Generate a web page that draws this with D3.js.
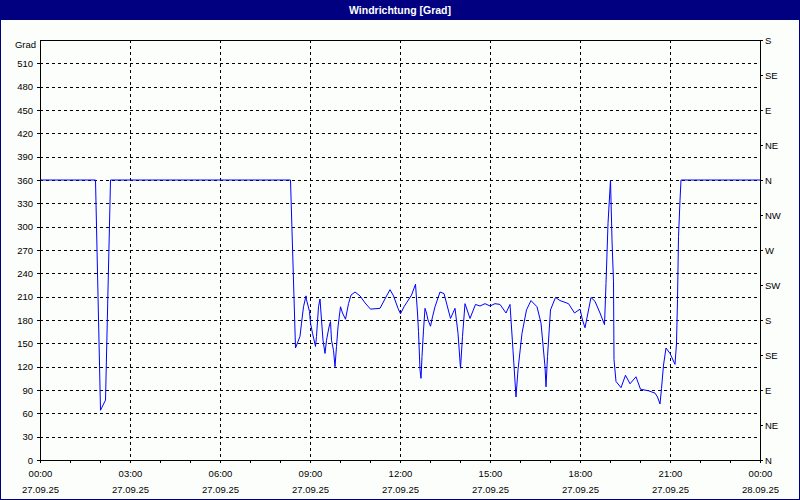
<!DOCTYPE html>
<html>
<head>
<meta charset="utf-8">
<script src="https://cdn.jsdelivr.net/npm/d3@7"></script>
<style>
  body { margin: 0; background: #fff; }
  text { font-family: "Liberation Sans", Arial, sans-serif; font-size: 9.5px; fill: #000; }
  .title { font-weight: bold; font-size: 10.5px; fill: #fff; }
  .grid line { stroke: #000; stroke-dasharray: 3,3; shape-rendering: crispEdges; }
  .axis path, .axis line { stroke: #000; shape-rendering: crispEdges; }
</style>
</head>
<body>
<div id="chart"></div>
<script>
// chart size
var svgWidth = 800;
var svgHeight = 500;
var margin = { top: 40, right: 40, bottom: 40, left: 40 };
var width = svgWidth - margin.left - margin.right;
var height = svgHeight - margin.top - margin.bottom;

var chartTitle = "Windrichtung [Grad]";
var unitLabel = "Grad";
var compassLabels = ["N", "NE", "E", "SE", "S", "SW", "W", "NW", "N", "NE", "E", "SE", "S"];

// readings of 27.09.25, time of day and direction in degrees
var times = ["00:00", "01:51", "02:01", "02:11", "02:21", "08:21", "08:31", "08:40", "08:43", "08:47",
  "08:52", "08:53", "08:59", "09:01", "09:05", "09:11", "09:13", "09:17", "09:20", "09:23",
  "09:26", "09:30", "09:33", "09:38", "09:41", "09:43", "09:47", "09:50", "09:53", "09:56",
  "10:01", "10:05", "10:11", "10:17", "10:22", "10:30", "10:40", "10:50", "11:01", "11:20",
  "11:34", "11:40", "11:47", "11:56", "12:01", "12:08", "12:13", "12:23", "12:31", "12:35",
  "12:37", "12:40", "12:42", "12:44", "12:47", "12:50", "12:53", "12:56", "13:01", "13:05",
  "13:10", "13:20", "13:28", "13:41", "13:50", "13:56", "14:01", "14:05", "14:10", "14:20",
  "14:31", "14:40", "14:50", "15:00", "15:10", "15:20", "15:32", "15:40", "15:46", "15:52",
  "15:56", "16:04", "16:13", "16:22", "16:34", "16:42", "16:50", "16:52", "16:55", "17:01",
  "17:11", "17:20", "17:37", "17:49", "18:00", "18:05", "18:10", "18:22", "18:30", "18:40",
  "18:49", "18:52", "18:56", "19:01", "19:02", "19:04", "19:07", "19:08", "19:12", "19:22",
  "19:31", "19:40", "19:52", "20:01", "20:17", "20:30", "20:35", "20:40", "20:43", "20:47",
  "20:52", "21:00", "21:10", "21:13", "21:15", "21:17", "21:20", "21:22", "24:00"];
var directions = [360, 360, 64, 77, 360, 360, 144, 159, 176, 197,
  211, 206, 191, 176, 163, 146, 159, 197, 207, 180,
  154, 137, 154, 171, 178, 154, 141, 120, 146, 171,
  197, 189, 181, 201, 212, 216, 211, 202, 194, 195,
  212, 219, 211, 195, 188, 197, 202, 212, 226, 189,
  165, 116, 105, 133, 167, 195, 189, 180, 172, 184,
  197, 216, 214, 182, 195, 163, 118, 159, 201, 182,
  200, 198, 201, 198, 201, 200, 189, 200, 141, 81,
  116, 163, 193, 205, 197, 176, 120, 94, 133, 193,
  209, 205, 201, 189, 194, 180, 170, 209, 204, 189,
  174, 227, 304, 360, 334, 283, 229, 129, 101, 93,
  109, 98, 107, 91, 89, 86, 81, 72, 92, 122,
  144, 137, 123, 150, 206, 287, 334, 360, 360];

var dayStart = new Date(2025, 8, 27, 0, 0);
var dayEnd = new Date(2025, 8, 28, 0, 0);

function toDate(t) {
  var p = t.split(":");
  return d3.timeMinute.offset(dayStart, +p[0] * 60 + +p[1]);
}

var data = times.map(function(t, i) { return [toDate(t), directions[i]]; });

var svg = d3.select("#chart")
  .append("svg")
  .attr("width", svgWidth)
  .attr("height", svgHeight);

// frame and title bar
svg.append("rect")
  .attr("x", 0.5).attr("y", 0.5)
  .attr("width", svgWidth - 1).attr("height", svgHeight - 1)
  .attr("fill", "#fcfefc")
  .attr("stroke", "#000080");

svg.append("rect")
  .attr("x", 0).attr("y", 0)
  .attr("width", svgWidth).attr("height", 20)
  .attr("fill", "#000080");

svg.append("text")
  .attr("class", "title")
  .attr("x", svgWidth / 2)
  .attr("y", 14)
  .attr("text-anchor", "middle")
  .text(chartTitle);

var xScale = d3.scaleTime()
  .domain([dayStart, dayEnd])
  .range([margin.left, margin.left + width]);

var yScale = d3.scaleLinear()
  .domain([0, 540])
  .range([margin.top + height, margin.top]);

var yTicks = d3.range(0, 541, 30);
var compassTicks = d3.range(0, 541, 45);
var hourTicks = d3.timeHour.every(1).range(dayStart, d3.timeMinute.offset(dayEnd, 1));
var labelTicks = d3.timeHour.every(3).range(dayStart, d3.timeMinute.offset(dayEnd, 1));

// dashed grid
svg.append("g")
  .attr("class", "grid")
  .selectAll("line")
  .data(yTicks.filter(function(d) { return d > 0 && d < 540; }))
  .enter()
  .append("line")
  .attr("x1", margin.left)
  .attr("x2", margin.left + width)
  .attr("y1", function(d) { return Math.round(yScale(d)) + 0.5; })
  .attr("y2", function(d) { return Math.round(yScale(d)) + 0.5; });

svg.append("g")
  .attr("class", "grid")
  .selectAll("line")
  .data(labelTicks.slice(1, -1))
  .enter()
  .append("line")
  .attr("x1", function(d) { return Math.round(xScale(d)) + 0.5; })
  .attr("x2", function(d) { return Math.round(xScale(d)) + 0.5; })
  .attr("y1", margin.top)
  .attr("y2", margin.top + height);

// data line
var line = d3.line()
  .x(function(d) { return xScale(d[0]); })
  .y(function(d) { return yScale(d[1]); });

svg.append("path")
  .datum(data)
  .attr("d", line)
  .attr("fill", "none")
  .attr("stroke", "#0000ff")
  .attr("stroke-width", 1);

// left axis
var yAxis = d3.axisLeft(yScale)
  .tickValues(yTicks.filter(function(d) { return d < 540; }))
  .tickSize(3)
  .tickPadding(4)
  .tickSizeOuter(0);

svg.append("g")
  .attr("class", "axis")
  .attr("transform", "translate(" + margin.left + ",0)")
  .call(yAxis);

svg.append("text")
  .attr("x", 36)
  .attr("y", 48)
  .attr("text-anchor", "end")
  .text(unitLabel);

// right axis with compass points
var rightAxis = d3.axisRight(yScale)
  .tickValues(compassTicks)
  .tickFormat(function(d, i) { return compassLabels[i]; })
  .tickSize(3)
  .tickPadding(2)
  .tickSizeOuter(0);

svg.append("g")
  .attr("class", "axis")
  .attr("transform", "translate(" + (margin.left + width) + ",0)")
  .call(rightAxis);

// bottom axis, hourly ticks, labels every 3 hours
var xAxis = d3.axisBottom(xScale)
  .tickValues(hourTicks)
  .tickSize(3)
  .tickSizeOuter(0)
  .tickFormat("");

var xAxisG = svg.append("g")
  .attr("class", "axis")
  .attr("transform", "translate(0," + (margin.top + height) + ")")
  .call(xAxis);

var timeFmt = d3.timeFormat("%H:%M");
var dateFmt = d3.timeFormat("%d.%m.%y");

var xLabels = svg.append("g")
  .selectAll("g")
  .data(labelTicks)
  .enter()
  .append("g")
  .attr("transform", function(d) { return "translate(" + (Math.round(xScale(d)) + 0.5) + ",0)"; });

xLabels.append("text")
  .attr("y", 477)
  .attr("text-anchor", "middle")
  .text(function(d) { return timeFmt(d); });

xLabels.append("text")
  .attr("y", 493)
  .attr("text-anchor", "middle")
  .text(function(d) { return dateFmt(d); });

// top border
svg.append("line")
  .attr("x1", margin.left)
  .attr("x2", margin.left + width)
  .attr("y1", margin.top + 0.5)
  .attr("y2", margin.top + 0.5)
  .attr("stroke", "#000")
  .style("shape-rendering", "crispEdges");
</script>
</body>
</html>
